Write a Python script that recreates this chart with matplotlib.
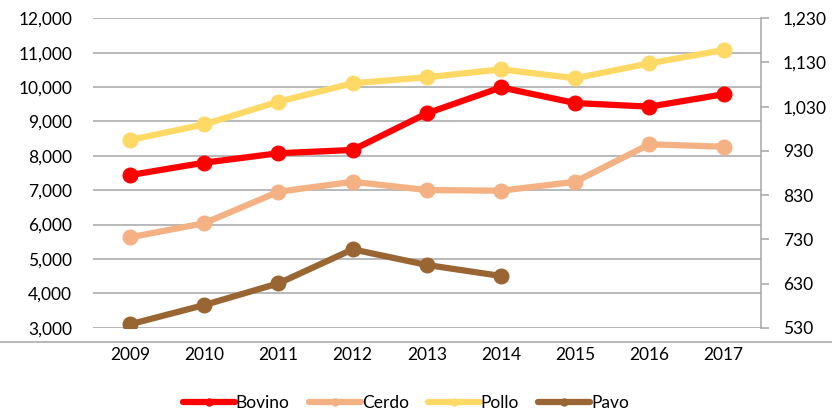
import matplotlib
matplotlib.use("Agg")
import matplotlib.pyplot as plt
from matplotlib.lines import Line2D

years = ["2009", "2010", "2011", "2012", "2013", "2014", "2015", "2016", "2017"]
bovino = [7440, 7800, 8075, 8170, 9235, 9990, 9535, 9430, 9790]
cerdo = [5630, 6040, 6955, 7245, 7005, 6985, 7245, 8335, 8265]
pollo = [8460, 8915, 9575, 10110, 10285, 10515, 10255, 10690, 11075]
pavo = [3100, 3660, 4290, 5280, 4825, 4505]

left_ticks = [3000, 4000, 5000, 6000, 7000, 8000, 9000, 10000, 11000, 12000]
right_ticks = [530, 630, 730, 830, 930, 1030, 1130, 1230]

series = [
    ("Bovino", bovino, "#ff0000"),
    ("Cerdo", cerdo, "#f4b183"),
    ("Pollo", pollo, "#ffd966"),
    ("Pavo", pavo, "#996633"),
]

plt.rcParams["font.family"] = ["Lato", "DejaVu Sans"]
fig = plt.figure(figsize=(8.32, 4.13), dpi=100)
ax = fig.add_axes([0.1118, 0.2065, 0.8025, 0.7492])

x = list(range(len(years)))
for name, vals, col in series:
    ax.plot(x[:len(vals)], vals, color=col, lw=4.5, marker="o", markersize=10.5,
            solid_capstyle="round", zorder=3)

ax.set_xlim(-0.5, len(years) - 0.5)
ax.set_ylim(3000, 12000)
ax.set_yticks(left_ticks)
ax.set_yticklabels([f"{v:,}" for v in left_ticks])
ax.set_xticks(x)
ax.set_xticklabels(years)
ax.grid(axis="y", color="#a6a6a6", lw=1.1)
ax.set_axisbelow(True)
for s in ["top", "left", "bottom", "right"]:
    ax.spines[s].set_visible(False)
ax.tick_params(axis="y", length=0, pad=15, labelsize=12.5, colors="black")
ax.tick_params(axis="x", length=0, pad=14, labelsize=12.5, colors="black")

ax2 = ax.twinx()
ax2.set_ylim(530, 1230)
ax2.set_yticks(right_ticks)
ax2.set_yticklabels([f"{v:,}" for v in right_ticks])
for s in ["top", "left", "bottom"]:
    ax2.spines[s].set_visible(False)
ax2.spines["right"].set_color("#a6a6a6")
ax2.spines["right"].set_linewidth(1.1)
ax2.tick_params(axis="y", length=6, width=1.1, color="#a6a6a6", pad=10, labelsize=12.5, labelcolor="black")

fig.add_artist(Line2D([0, 1], [1 - 342 / 413, 1 - 342 / 413], transform=fig.transFigure,
                      color="#a6a6a6", lw=1.1))

handles = [Line2D([], [], color=col, lw=4.5, marker="o", markersize=5, solid_capstyle="round")
           for _, _, col in series]
fig.legend(handles, [n for n, _, _ in series], loc="center", bbox_to_anchor=(0.488, 1 - 403 / 413),
           ncol=4, frameon=False, fontsize=12.5, handlelength=3.0, handletextpad=0.05,
           columnspacing=1.1, borderpad=0)

fig.savefig("out.png", dpi=100)
